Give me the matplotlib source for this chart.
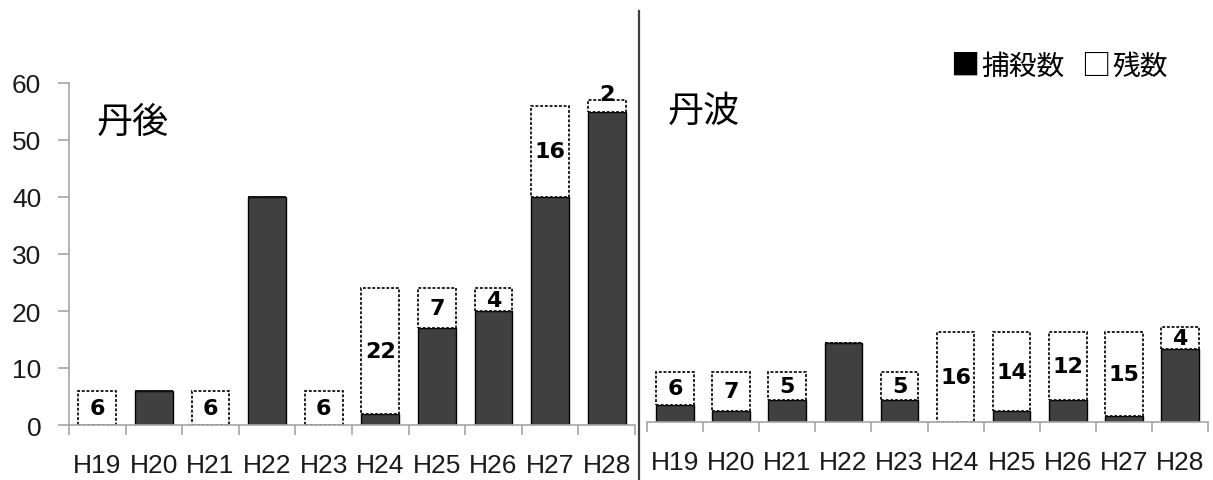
import matplotlib
matplotlib.use("Agg")
import matplotlib.pyplot as plt
from matplotlib.lines import Line2D
import numpy as np

years = ["H19", "H20", "H21", "H22", "H23", "H24", "H25", "H26", "H27", "H28"]

# 丹後
tango_captured = [0, 6, 0, 40, 0, 2, 17, 20, 40, 55]
tango_remaining = [6, 0, 6, 0, 6, 22, 7, 4, 16, 2]

# 丹波
tanba_captured = [3, 2, 4, 14, 4, 0, 2, 4, 1, 13]
tanba_remaining = [6, 7, 5, 0, 5, 16, 14, 12, 15, 4]

DARK = "#404040"
AXIS = "#a6a6a6"
TICK_FONT = ["Liberation Sans", "DejaVu Sans"]
CJK = ["Noto Sans CJK JP", "DejaVu Sans"]

W, H = 1213, 481
fig = plt.figure(figsize=(W / 100, H / 100), dpi=100)


def px_rect(x0, x1, y_zero, y_top):
    return [x0 / W, 1 - y_zero / H, (x1 - x0) / W, (y_zero - y_top) / H]


def draw_panel(ax, captured, remaining, show_y):
    x = np.arange(len(years))
    cap = np.array(captured, float)
    rem = np.array(remaining, float)
    ax.bar(x, cap, width=0.67, color=DARK, edgecolor="black", linewidth=1.0, zorder=2)
    ax.bar(x, rem, bottom=cap, width=0.67, color="white", edgecolor="#111111",
           linewidth=1.3, linestyle=(0, (1.6, 1.0)), zorder=2)
    for xi, c, r in zip(x, cap, rem):
        if r <= 0:
            continue
        if r < 3:
            ax.text(xi, c + r - 0.6, f"{int(r)}", ha="center", va="bottom",
                    fontsize=16, fontweight="bold", zorder=3)
        else:
            ax.text(xi, c + r / 2, f"{int(r)}", ha="center", va="center",
                    fontsize=16, fontweight="bold", zorder=3)
    ax.set_xlim(-0.5, len(years) - 0.5)
    ax.set_ylim(0, 60)
    ax.set_xticks(x)
    ax.set_xticklabels(years, family=TICK_FONT, fontsize=19, color="#1a1a1a")
    ax.set_xticks(np.arange(-0.5, len(years)), minor=True)
    ax.tick_params(axis="x", which="major", length=0, pad=20)
    ax.tick_params(axis="x", which="minor", length=7, color=AXIS, width=1.2)
    for s in ("top", "right"):
        ax.spines[s].set_visible(False)
    ax.spines["bottom"].set_color(AXIS)
    ax.spines["bottom"].set_linewidth(1.2)
    if show_y:
        ax.set_yticks(range(0, 61, 10))
        ax.set_yticklabels([str(v) for v in range(0, 61, 10)], family=TICK_FONT,
                           fontsize=19, color="#1a1a1a")
        ax.tick_params(axis="y", length=8, color=AXIS, width=1.2, pad=12)
        ax.spines["left"].set_color(AXIS)
        ax.spines["left"].set_linewidth(1.2)
    else:
        ax.spines["left"].set_visible(False)
        ax.set_yticks([])
    ax.patch.set_alpha(0)


ax1 = fig.add_axes(px_rect(69, 635, 426, 84))
draw_panel(ax1, tango_captured, tango_remaining, True)
ax1.text(0.049, 0.885, "丹後", transform=ax1.transAxes, ha="left", va="center",
         family=CJK, fontsize=26)

ax2 = fig.add_axes(px_rect(647, 1208, 423, 86.5))
draw_panel(ax2, tanba_captured, tanba_remaining, False)
ax2.text(0.037, 0.925, "丹波", transform=ax2.transAxes, ha="left", va="center",
         family=CJK, fontsize=26)

# divider between the two regions
fig.add_artist(Line2D([639 / W, 639 / W], [0, 1 - 12 / H], color="#404040",
                      linewidth=1.6, transform=fig.transFigure))

# legend written as text: filled square = 捕殺数, open square = 残数
ly = 1 - 67 / H
fig.text(950 / W, ly, "■", ha="left", va="center", family=CJK, fontsize=21)
fig.text(981 / W, ly, "捕殺数", ha="left", va="center", family=CJK, fontsize=20)
fig.text(1081 / W, ly, "□", ha="left", va="center", family=CJK, fontsize=21)
fig.text(1112 / W, ly, "残数", ha="left", va="center", family=CJK, fontsize=20)

fig.savefig("out.png", dpi=100)
